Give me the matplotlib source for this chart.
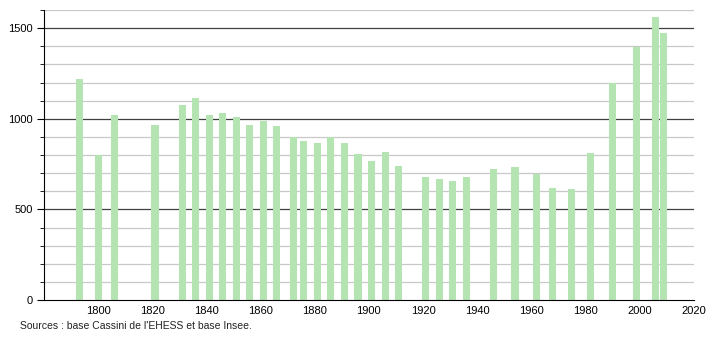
import numpy as np
import matplotlib
matplotlib.use("Agg")
import matplotlib.pyplot as plt
from matplotlib.ticker import MultipleLocator

plt.rcParams["font.family"] = ["Liberation Sans", "DejaVu Sans"]

# recensements
annees = [1793, 1800, 1806, 1821, 1831, 1836, 1841, 1846, 1851, 1856,
          1861, 1866, 1872, 1876, 1881, 1886, 1891, 1896, 1901, 1906,
          1911, 1921, 1926, 1931, 1936, 1946, 1954, 1962, 1968, 1975,
          1982, 1990, 1999, 2006, 2009]
population = [1221, 800, 1022, 967, 1074, 1112, 1018, 1029, 1007, 967,
              985, 959, 900, 878, 867, 898, 867, 806, 767, 819,
              742, 679, 668, 657, 679, 723, 734, 696, 618, 612,
              812, 1197, 1396, 1559, 1472]

fig = plt.figure(figsize=(7.1, 3.4), dpi=100)
ax = fig.add_axes([0.062, 0.1176, 0.915, 0.853])

# grille : fine tous les 100, foncée tous les 500
for v in range(100, 1700, 100):
    if v % 500 == 0:
        ax.axhline(v, color="#404040", lw=0.9, zorder=1)
    else:
        ax.axhline(v, color="#c8c8c8", lw=0.9, zorder=1)

ax.bar(annees, population, width=2.6, color="#b3e4b1", zorder=2)

ax.set_xlim(1780, 2020)
ax.set_ylim(0, 1600)
ax.set_xticks(range(1800, 2021, 20))
ax.set_yticks([0, 500, 1000, 1500])
ax.yaxis.set_minor_locator(MultipleLocator(100))
ax.tick_params(axis="x", length=0, labelsize=8, pad=4)
ax.tick_params(axis="y", which="major", length=5, labelsize=8, pad=3)
ax.tick_params(axis="y", which="minor", length=3)

for s in ["top", "right"]:
    ax.spines[s].set_visible(False)
ax.spines["left"].set_color("black")
ax.spines["bottom"].set_color("black")

fig.text(0.028, 0.033, "Sources : base Cassini de l'EHESS et base Insee.",
         fontsize=7.5, color="#222222")

fig.savefig("out.png", dpi=100)
